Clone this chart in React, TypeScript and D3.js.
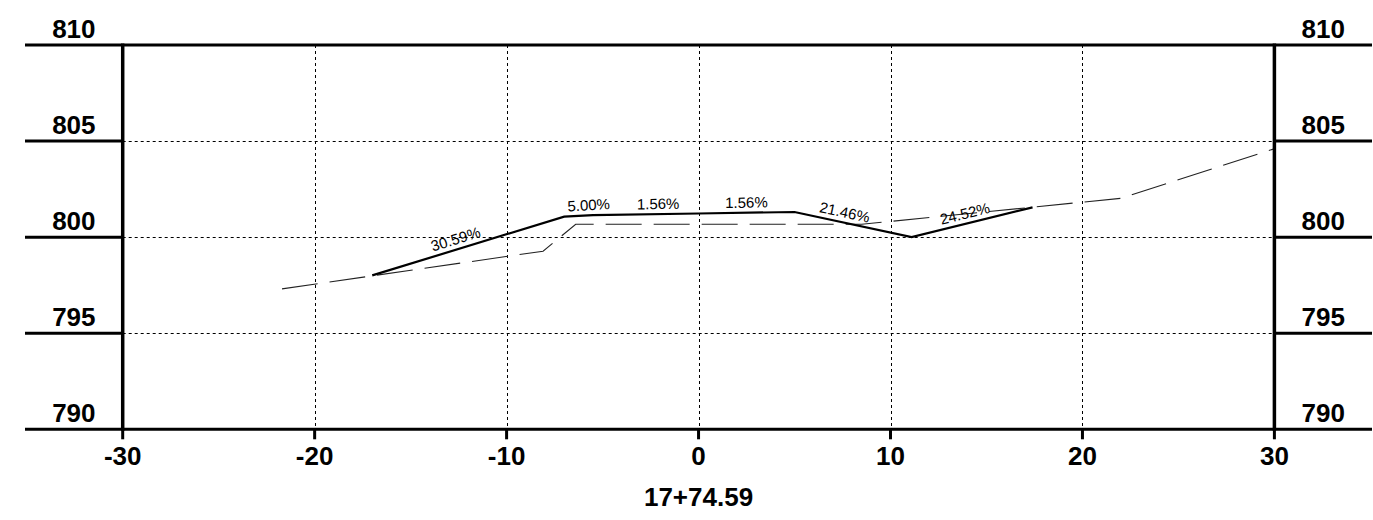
import React from "react";
import * as d3 from "d3";

// ---- data ----
const xTicks = [-30, -20, -10, 0, 10, 20, 30];
const yTicks = [790, 795, 800, 805, 810];
const stationLabel = "17+74.59";

// proposed (design) section – solid
const designX = [-17, -7, -5.5, 0, 5, 11.1, 17.4];
const designY = [798.01, 801.07, 801.15, 801.23, 801.31, 800.0, 801.55];

// existing ground – dashed
const groundX = [-21.7, -8.1, -6.4, 8.5, 22, 30];
const groundY = [797.31, 799.27, 800.67, 800.67, 802.02, 804.6];

// slope labels along the design line
const slopeText = ["30.59%", "5.00%", "1.56%", "1.56%", "21.46%", "24.52%"];
const slopeAt = [-12.5, -5.7, -2.1, 2.5, 7.5, 14.0];

const W = 1373;
const H = 520;
const FONT = "'Liberation Sans', Arial, Helvetica, sans-serif";

export default function App() {
  const x = d3.scaleLinear().domain([-30, 30]).range([122.7, 1274.4]);
  const y = d3.scaleLinear().domain([790, 810]).range([429.3, 45]);

  const design = designX.map((v, i) => [v, designY[i]] as [number, number]);
  const ground = groundX.map((v, i) => [v, groundY[i]] as [number, number]);
  const line = d3
    .line<[number, number]>()
    .x((d) => x(d[0]))
    .y((d) => y(d[1]));

  const [x0, x1] = x.range();
  const [yb, yt] = y.range();

  const labels = slopeText.map((t, i) => {
    const xv = slopeAt[i];
    let k = 0;
    while (k < designX.length - 2 && designX[k + 1] < xv) k++;
    const ax = x(designX[k]), ay = y(designY[k]);
    const bx = x(designX[k + 1]), by = y(designY[k + 1]);
    const f = (xv - designX[k]) / (designX[k + 1] - designX[k]);
    const px = ax + (bx - ax) * f;
    const py = ay + (by - ay) * f;
    const ang = (Math.atan2(by - ay, bx - ax) * 180) / Math.PI;
    return { t, px, py, ang };
  });

  const gridX = xTicks.filter((v) => v > -30 && v < 30);
  const gridY = yTicks.filter((v) => v > 790 && v < 810);
  const crisp = (v: number) => Math.round(v) + 0.5;

  return (
    <svg
      width={W}
      height={H}
      style={{ position: "absolute", left: 0, top: 0, background: "#fff" }}
      fontFamily={FONT}
    >
      {/* grid */}
      {gridX.map((v) => (
        <line key={"gx" + v} x1={crisp(x(v))} x2={crisp(x(v))} y1={yt} y2={yb} stroke="#000" strokeWidth={1} strokeDasharray="3,3" />
      ))}
      {gridY.map((v) => (
        <line key={"gy" + v} x1={x0} x2={x1} y1={crisp(y(v))} y2={crisp(y(v))} stroke="#000" strokeWidth={1} strokeDasharray="3,3" />
      ))}

      {/* existing ground */}
      <path d={line(ground) || ""} fill="none" stroke="#222" strokeWidth={1.1} strokeDasharray="36,12" />
      {/* design */}
      <path d={line(design) || ""} fill="none" stroke="#000" strokeWidth={2.2} strokeLinejoin="miter" />

      {/* slope labels */}
      {labels.map((l, i) => (
        <text
          key={"sl" + i}
          transform={`translate(${l.px},${l.py}) rotate(${l.ang})`}
          dy={-5}
          textAnchor="middle"
          fontSize={15}
          fill="#000"
        >
          {l.t}
        </text>
      ))}

      {/* frame */}
      <line x1={x0} x2={x0} y1={yt - 1.5} y2={yb + 1.5} stroke="#000" strokeWidth={3.5} />
      <line x1={x1} x2={x1} y1={yt - 1.5} y2={yb + 1.5} stroke="#000" strokeWidth={3.5} />
      <line x1={x0} x2={x1} y1={yt} y2={yt} stroke="#000" strokeWidth={3} />
      <line x1={x0} x2={x1} y1={yb} y2={yb} stroke="#000" strokeWidth={3} />

      {/* y ticks left & right */}
      {yTicks.map((v) => (
        <g key={"yt" + v}>
          <line x1={25} x2={x0} y1={y(v)} y2={y(v)} stroke="#000" strokeWidth={3} />
          <line x1={x1} x2={1372} y1={y(v)} y2={y(v)} stroke="#000" strokeWidth={3} />
          <text x={(25 + x0) / 2} y={y(v) - 7.5} textAnchor="middle" fontSize={26} fontWeight="bold">
            {v}
          </text>
          <text x={(x1 + 1372) / 2} y={y(v) - 7.5} textAnchor="middle" fontSize={26} fontWeight="bold">
            {v}
          </text>
        </g>
      ))}

      {/* x ticks */}
      {xTicks.map((v) => (
        <g key={"xt" + v}>
          <line x1={x(v)} x2={x(v)} y1={yb} y2={yb + 10} stroke="#000" strokeWidth={3} />
          <text x={x(v)} y={465} textAnchor="middle" fontSize={26} fontWeight="bold">
            {v}
          </text>
        </g>
      ))}
      <text x={x(0)} y={506} textAnchor="middle" fontSize={26} fontWeight="bold">
        {stationLabel}
      </text>
    </svg>
  );
}
